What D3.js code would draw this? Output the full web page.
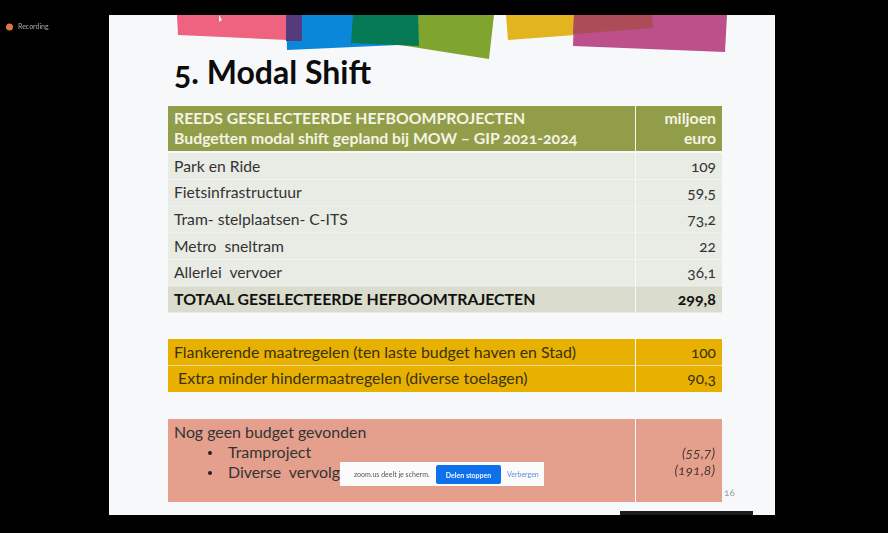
<!DOCTYPE html>
<html>
<head>
<meta charset="utf-8">
<script src="https://cdn.jsdelivr.net/npm/d3@7"></script>
<style>
html, body { margin: 0; padding: 0; background: #000; overflow: hidden; }
svg { display: block; filter: blur(0.4px); }
text { font-family: Lato, "Open Sans", sans-serif; font-feature-settings: "onum" 1; }
</style>
</head>
<body>
<svg id="vizSVG" width="888" height="533"></svg>
<script>
const headerLines = ['REEDS GESELECTEERDE HEFBOOMPROJECTEN', 'Budgetten modal shift gepland bij MOW – GIP 2021-2024']
const unitLines = ['miljoen', 'euro']
const projects = ['Park en Ride', 'Fietsinfrastructuur', 'Tram- stelplaatsen- C-ITS', 'Metro  sneltram', 'Allerlei  vervoer']
const projectValues = [109, 59.5, 73.2, 22, 36.1]
const totalLabel = 'TOTAAL GESELECTEERDE HEFBOOMTRAJECTEN'
const totalValue = 299.8
const flankLabels = ['Flankerende maatregelen (ten laste budget haven en Stad)', ' Extra minder hindermaatregelen (diverse toelagen)']
const flankValues = [100, 90.3]
const openTitle = 'Nog geen budget gevonden'
// de rest van de tweede regel zit achter de zoom balk
const openLabels = ['Tramproject', 'Diverse  vervolg']
const openValues = ['(55,7)', '(191,8)']

const svg = d3.select('#vizSVG')
const nl = d3.formatLocale({ decimal: ',', thousands: '.', grouping: [3], currency: ['€', ''] })
const fmt = nl.format('.1~f')

// slide
svg.append('rect').attr('x', 109).attr('y', 15).attr('width', 666).attr('height', 500).attr('fill', '#f7f8fa')

// gekleurde vlakken bovenaan
const shapes = [
    ['#ee6480', '177,15 178,35 287,40 287,15'],
    ['#0a87d8', '286,15 287,50 420,44 420,15'],
    ['#553a7e', '286,15 286,41 302,41 302,15'],
    ['#7fa52f', '400,15 400,45 489,59 494,15'],
    ['#067a54', '353,15 351,43 419,46 418,15'],
    ['#e2b41d', '506,15 508,40 575,35 575,15'],
    ['#bd4f8a', '574,15 573,46 725,52 727,15'],
    ['#ab4c58', '574,15 573,34 653,28 652,15'],
]
svg.append('g').selectAll('polygon').data(shapes).join('polygon')
    .attr('fill', d => d[0]).attr('points', d => d[1])
svg.append('polygon').attr('points', '219,15 219,22 222,20').attr('fill', '#f4f4f4')

svg.append('text').attr('x', 174).attr('y', 84)
    .attr('font-size', 32).attr('font-weight', 700).attr('fill', '#0c0c0c')
    .text('5. Modal Shift')

const x = d3.scaleLinear().domain([0, 1]).range([168, 722])
const split = 635
const labelX = 174
const valueX = 716

function cells(y, rowNames, fill) {
    const g = svg.append('g')
    g.selectAll('rect.l').data(rowNames).join('rect').attr('class', 'l')
        .attr('x', x(0)).attr('y', d => y(d)).attr('width', split - x(0)).attr('height', y.bandwidth())
        .attr('fill', fill)
    g.selectAll('rect.r').data(rowNames).join('rect').attr('class', 'r')
        .attr('x', split + 1).attr('y', d => y(d)).attr('width', x(1) - split - 1).attr('height', y.bandwidth())
        .attr('fill', fill)
    return g
}

// kop
const yHead = d3.scaleBand().domain(['head']).range([106, 151])
cells(yHead, ['head'], '#919d48')
svg.append('g').selectAll('text').data(headerLines).join('text')
    .attr('x', labelX).attr('y', (d, i) => 124 + i * 20)
    .attr('font-size', 15.8).attr('font-weight', 700).attr('fill', '#f4f4e4').text(d => d)
svg.append('g').selectAll('text').data(unitLines).join('text')
    .attr('x', valueX).attr('y', (d, i) => 124 + i * 20).attr('text-anchor', 'end')
    .attr('font-size', 15.8).attr('font-weight', 700).attr('fill', '#f4f4e4').text(d => d)

// projecten
const rows = projects.concat([totalLabel])
const rowValues = projectValues.concat([totalValue])
const yRows = d3.scaleBand().domain(rows).range([153, 312.5]).paddingInner(0.02)
const rowFill = d => d === totalLabel ? '#dadccd' : '#e9ebe5'
const g1 = cells(yRows, rows, rowFill)
g1.selectAll('text.l').data(rows).join('text').attr('class', 'l')
    .attr('x', labelX).attr('y', d => yRows(d) + yRows.bandwidth() / 2 + 5.5)
    .attr('font-size', d => d === totalLabel ? 15.85 : 15.7)
    .attr('font-weight', d => d === totalLabel ? 700 : 400)
    .attr('fill', d => d === totalLabel ? '#111' : '#333').attr('xml:space', 'preserve').text(d => d)
g1.selectAll('text.r').data(rows).join('text').attr('class', 'r')
    .attr('x', valueX).attr('y', d => yRows(d) + yRows.bandwidth() / 2 + 5.5).attr('text-anchor', 'end')
    .attr('font-size', d => d === totalLabel ? 16 : 15.5)
    .attr('font-weight', d => d === totalLabel ? 700 : 400)
    .attr('fill', d => d === totalLabel ? '#111' : '#333')
    .text((d, i) => fmt(rowValues[i]))

// flankerend
const yFlank = d3.scaleBand().domain(flankLabels).range([339, 392]).paddingInner(0.02)
const g2 = cells(yFlank, flankLabels, '#e8b000')
g2.selectAll('text.l').data(flankLabels).join('text').attr('class', 'l')
    .attr('x', labelX).attr('y', d => yFlank(d) + yFlank.bandwidth() / 2 + 5.5)
    .attr('font-size', 15.9).attr('fill', '#3a3210').attr('xml:space', 'preserve').text(d => d)
g2.selectAll('text.r').data(flankValues).join('text').attr('class', 'r')
    .attr('x', valueX).attr('y', (d, i) => yFlank(flankLabels[i]) + yFlank.bandwidth() / 2 + 5.5).attr('text-anchor', 'end')
    .attr('font-size', 15.5).attr('fill', '#3a3210').text(d => fmt(d))

// nog geen budget
const yOpen = d3.scaleBand().domain(['open']).range([419, 502])
const g3 = cells(yOpen, ['open'], '#e4a08d')
g3.append('text').attr('x', labelX).attr('y', 438).attr('font-size', 15.9).attr('fill', '#333').text(openTitle)
const g3b = g3.selectAll('g.b').data(openLabels).join('g').attr('class', 'b').attr('transform', (d, i) => `translate(0,${458 + i * 20})`)
g3b.append('circle').attr('cx', 210).attr('cy', -5).attr('r', 2).attr('fill', '#222')
g3b.append('text').attr('x', 228).attr('font-size', 15.9).attr('fill', '#333').attr('xml:space', 'preserve').text(d => d)
g3.selectAll('text.r').data(openValues).join('text').attr('class', 'r')
    .attr('x', valueX - 1).attr('y', (d, i) => 458 + i * 17).attr('text-anchor', 'end')
    .attr('font-size', 14).attr('font-style', 'italic').attr('fill', '#4a3a34').text(d => d)

// paginanummer
svg.append('text').attr('x', 724).attr('y', 496).attr('font-size', 10).attr('fill', '#999').text('16')

// zoom balk
svg.append('rect').attr('x', 340).attr('y', 462).attr('width', 204).attr('height', 24).attr('fill', '#fbfbfb')
svg.append('text').attr('x', 354).attr('y', 477).attr('font-size', 7).attr('fill', '#555').text('zoom.us deelt je scherm.')
svg.append('rect').attr('x', 436).attr('y', 465).attr('width', 65).attr('height', 19).attr('rx', 2).attr('fill', '#0e71eb')
svg.append('text').attr('x', 468.5).attr('y', 477.5).attr('text-anchor', 'middle').attr('font-size', 7).attr('font-weight', 700).attr('fill', '#f0f6ff').text('Delen stoppen')
svg.append('text').attr('x', 507).attr('y', 477).attr('font-size', 7).attr('fill', '#5c8fd8').text('Verbergen')
svg.append('rect').attr('x', 620).attr('y', 511).attr('width', 133).attr('height', 4).attr('fill', '#1c1c1e')

// recording
svg.append('circle').attr('cx', 9.5).attr('cy', 27).attr('r', 3.5).attr('fill', '#d9783f')
svg.append('text').attr('x', 18).attr('y', 29).attr('font-size', 7).attr('fill', '#aaa').text('Recording')
</script>
</body>
</html>
